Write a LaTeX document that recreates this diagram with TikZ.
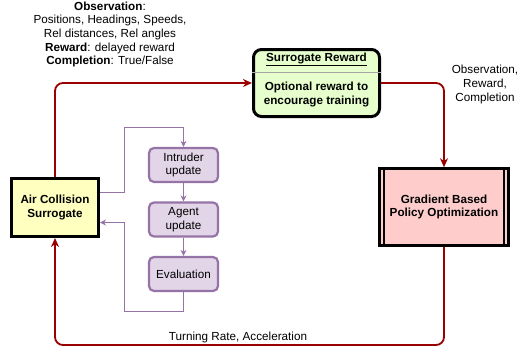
\documentclass[tikz,border=0pt]{standalone}
\usepackage{fontspec}
\setmainfont{Liberation Sans}
\usetikzlibrary{arrows.meta}
\definecolor{redline}{HTML}{990000}
\definecolor{purpfill}{HTML}{E1D5E7}
\definecolor{purpline}{HTML}{9673A6}
\definecolor{yellowfill}{HTML}{FFFFC0}
\definecolor{greenfill}{HTML}{E6FFCC}
\definecolor{pinkfill}{HTML}{FFCCCC}
\begin{document}
\begin{tikzpicture}[x=1pt,y=-1pt,
  font=\fontsize{11.7}{13.6}\selectfont,
  yellowbox/.style={draw=black,line width=3pt,fill=yellowfill,minimum width=87pt,minimum height=58pt,inner sep=0pt,align=center,font=\fontsize{11.7}{13.6}\selectfont\bfseries},
  greenbox/.style={draw=black,line width=3pt,fill=greenfill,rounded corners=8pt,minimum width=126pt,minimum height=67pt,inner sep=0pt},
  pinkbox/.style={draw=black,line width=2.5pt,fill=pinkfill,minimum width=129pt,minimum height=77pt,inner sep=0pt,align=center,font=\fontsize{11.7}{13.6}\selectfont\bfseries},
  purpbox/.style={draw=purpline,line width=2.2pt,fill=purpfill,rounded corners=5pt,minimum width=69pt,minimum height=34pt,inner sep=0pt,align=center},
  redarrow/.style={draw=redline,line width=1.8pt,rounded corners=8pt,-{Stealth[length=9pt,width=8pt]}},
  purparrow/.style={draw=purpline,line width=0.9pt,-{Stealth[length=6pt,width=6pt]}},
  lbl/.style={inner sep=0pt,align=center}]
\useasboundingbox (0,0) rectangle (520,354);

% text block
\node[lbl] (obs) at (110,34.5) {\textbf{Observation}:\\Positions, Headings, Speeds,\\Rel distances, Rel angles\\\textbf{Reward}: delayed reward\\\textbf{Completion}: True/False};

% boxes
\node[yellowbox] (acs) at (55,207.5) {Air Collision\\Surrogate};
\node[greenbox] (sr) at (316.5,83) {};
\draw[gray!70,line width=0.8pt] (sr.west |- 0,72.5) -- (sr.east |- 0,72.5);
\node[lbl,font=\fontsize{11.7}{13.6}\selectfont\bfseries] (srh) at (316.5,59) {\underline{Surrogate Reward}};
\node[lbl,font=\fontsize{11.7}{13.6}\selectfont\bfseries] (srb) at (316.5,94.5) {Optional reward to\\encourage training};
\node[pinkbox] (gbp) at (444,207) {Gradient Based\\Policy Optimization};
\draw[black,line width=2.2pt] ([xshift=6pt]gbp.north west) -- ([xshift=6pt]gbp.south west);
\draw[black,line width=2.2pt] ([xshift=-6pt]gbp.north east) -- ([xshift=-6pt]gbp.south east);

\node[purpbox] (iu) at (183.5,165) {Intruder\\update};
\node[purpbox] (au) at (183.5,219.5) {Agent\\update};
\node[purpbox] (ev) at (183.5,274) {Evaluation};

% red connectors
\coordinate (bot) at (0,345);
\draw[redarrow] (acs.north) |- (sr.west);
\draw[redarrow] (sr.east) -| (gbp.north);
\draw[redarrow] (gbp.south) -- (gbp.south |- bot) -- (acs.south |- bot) -- (acs.south);

% labels
\node[lbl] (orc) at (485,84.5) {Observation,\\Reward,\\Completion};
\node[lbl] (tra) at (238,337) {Turning Rate, Acceleration};

% purple loop
\coordinate (l1) at (124,127);
\coordinate (l2) at (124,311);
\draw[purparrow] ([yshift=15pt]acs.east) -| (l1) -| (iu.north);
\draw[purparrow] (iu.south) -- (au.north);
\draw[purparrow] (au.south) -- (ev.north);
\draw[purparrow] (ev.south) |- (l2) |- ([yshift=-15pt]acs.east);
\end{tikzpicture}
\end{document}
